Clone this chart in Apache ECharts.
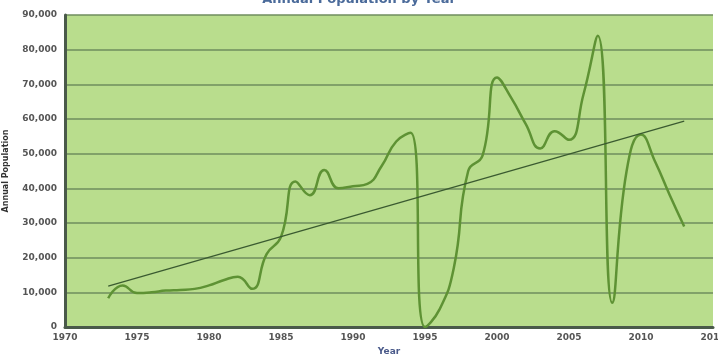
<!DOCTYPE html>
<html><head><meta charset="utf-8">
<script src="https://cdn.jsdelivr.net/npm/echarts@6/dist/echarts.min.js"></script>
<style>html,body{margin:0;padding:0;background:#fff}#c{width:718px;height:360px}</style>
</head><body><div id="c"></div>
<script>
const years = [1973,1974,1975,1976,1977,1978,1979,1980,1981,1982,1983,1984,1985,1986,1987,1988,1989,1990,1991,1992,1993,1994,1995,1996,1997,1998,1999,2000,2001,2002,2003,2004,2005,2006,2007,2008,2009,2010,2011,2012,2013];
const population = [8300,12000,9800,10000,10500,10700,11000,12000,13500,14500,11000,21000,26000,42000,38000,45300,40000,40600,41300,46500,53500,56000,0,5000,17000,45000,49500,72000,66000,58500,51500,56500,54000,67000,84000,7000,45000,55500,47500,38000,29000];
const trendYears = [1973, 2013];
const trendValues = [11800, 59400];
const yTicks = [0,10000,20000,30000,40000,50000,60000,70000,80000,90000];
const xTicks = [1970,1975,1980,1985,1990,1995,2000,2005,2010,2015];

const chart = echarts.init(document.getElementById('c'));
const lab = {color:'#555', fontSize:9, fontWeight:'bold', fontFamily:'DejaVu Sans'};
chart.setOption({
  animation:false,
  backgroundColor:'#fff',
  title:{text:'Annual Population by Year', left:'center', top:-12,
    textStyle:{color:'#4a6a9a', fontSize:13, fontWeight:'bold', fontFamily:'DejaVu Sans'}},
  grid:{left:65, right:5, top:15, bottom:33, show:true, backgroundColor:'#b9dd8d', borderWidth:0,
    containLabel:false, outerBoundsMode:'none'},
  xAxis:{type:'value', min:xTicks[0], max:xTicks[xTicks.length-1], interval:5,
    name:'Year', nameLocation:'middle', nameGap:20,
    nameTextStyle:{color:'#4a5a8a', fontSize:9, fontWeight:'bold', fontFamily:'DejaVu Sans'},
    axisLine:{lineStyle:{color:'#4a5a4a', width:3}},
    axisTick:{show:false}, splitLine:{show:false},
    axisLabel:Object.assign({formatter:v=>String(v), margin:6}, lab)},
  yAxis:{type:'value', min:yTicks[0], max:yTicks[yTicks.length-1], interval:10000,
    name:'Annual Population', nameLocation:'middle', nameGap:55,
    nameTextStyle:{color:'#333', fontSize:8, fontWeight:'bold', fontFamily:'DejaVu Sans'},
    axisLine:{show:true, lineStyle:{color:'#4a5a4a', width:3}},
    axisTick:{show:false},
    splitLine:{lineStyle:{color:'#6f8c5e', width:1.5}},
    axisLabel:Object.assign({formatter:v=>v.toLocaleString('en-US'), margin:8}, lab)},
  series:[
    {type:'line', data:years.map((y,i)=>[y,population[i]]), smooth:0.5, symbol:'none',
      lineStyle:{color:'#5e9234', width:2.5}},
    {type:'line', data:trendYears.map((y,i)=>[y,trendValues[i]]), symbol:'none',
      lineStyle:{color:'#3a5a30', width:1.2}}
  ]
});
</script></body></html>
